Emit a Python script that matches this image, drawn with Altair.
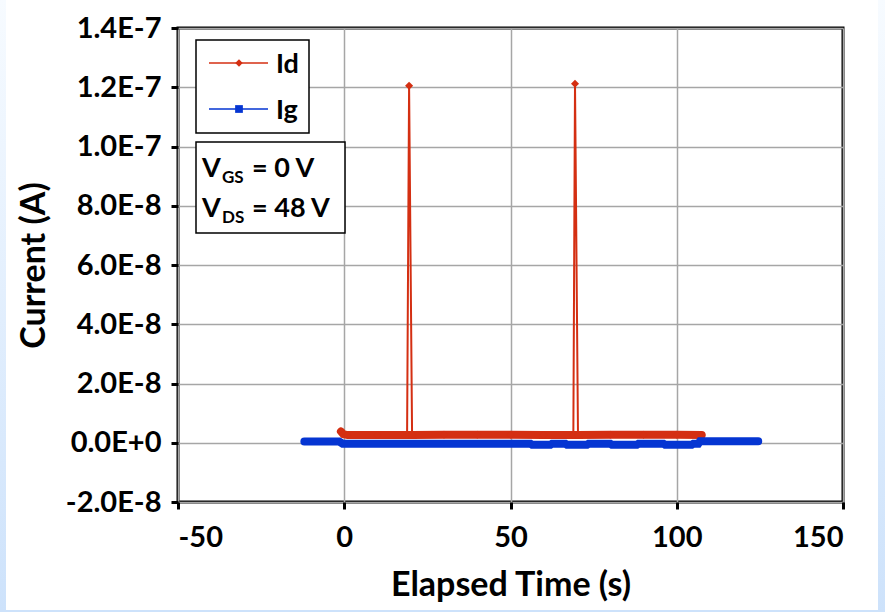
import json
import altair as alt
import pandas as pd

# ---------------- data ----------------
id_time = [-1.0, -0.3, 1.0, 10.0, 18.9, 19.5, 20.4, 30.0, 40.0, 50.0, 60.0,
           68.9, 69.4, 70.3, 80.0, 90.0, 100.0, 107.5]
id_current = [3.8e-9, 2.9e-9, 2.6e-9, 2.6e-9, 2.6e-9, 1.205e-7, 2.6e-9, 2.7e-9,
              2.7e-9, 2.7e-9, 2.6e-9, 2.6e-9, 1.212e-7, 2.6e-9, 2.7e-9, 2.7e-9,
              2.7e-9, 2.6e-9]

ig_time = [-12.0, -1.5, -0.5, 56.0, 56.5, 62.0, 62.5, 66.5, 67.0, 73.0, 73.5,
           80.0, 80.5, 88.0, 88.5, 96.0, 96.5, 104.5, 105.0, 106.5, 107.0, 124.5]
ig_current = [0.4e-9, 0.4e-9, -0.3e-9, -0.3e-9, -0.7e-9, -0.7e-9, -0.3e-9,
              -0.3e-9, -0.7e-9, -0.7e-9, -0.3e-9, -0.3e-9, -0.7e-9, -0.7e-9,
              -0.3e-9, -0.3e-9, -0.7e-9, -0.7e-9, -0.3e-9, -0.3e-9, 0.5e-9, 0.5e-9]

x_ticks = [-50, 0, 50, 100, 150]
y_ticks = [-2e-8, 0, 2e-8, 4e-8, 6e-8, 8e-8, 1e-7, 1.2e-7, 1.4e-7]
y_tick_labels = ["-2.0E-8", "0.0E+0", "2.0E-8", "4.0E-8", "6.0E-8", "8.0E-8",
                 "1.0E-7", "1.2E-7", "1.4E-7"]
series_names = ["Id", "Ig"]

# ---------------- styling ----------------
FONT = "Lato, sans-serif"
RED = "#d42f12"
BLUE = "#0535d2"
GRID = "#a6a6a6"
EDGE = "#cde2fb"

df_id = pd.DataFrame({"t": id_time, "I": id_current})
df_ig = pd.DataFrame({"t": ig_time, "I": ig_current})
one = pd.DataFrame({"k": [0]})

y_expr = f"{json.dumps(y_tick_labels)}[indexof({json.dumps(y_ticks)}, datum.value)]"

x_enc = alt.X("t:Q",
              scale=alt.Scale(domain=[-50, 150], nice=False),
              axis=alt.Axis(values=x_ticks, labelExpr="datum.value + ''",
                            title="Elapsed Time (s)"))
y_enc = alt.Y("I:Q",
              scale=alt.Scale(domain=[-2e-8, 1.4e-7], nice=False, zero=False),
              axis=alt.Axis(values=y_ticks, labelExpr=y_expr,
                            title="Current (A)"))

# light-blue frame strips around the picture
grad_v = alt.Gradient(gradient="linear", x1=0, y1=0, x2=0, y2=1,
                      stops=[alt.GradientStop(color="#f7fbff", offset=0),
                             alt.GradientStop(color=EDGE, offset=1)])
left_strip = alt.Chart(one).mark_rect(fill=grad_v).encode(
    x=alt.value(-178), x2=alt.value(-172), y=alt.value(-28), y2=alt.value(584))
right_strip = alt.Chart(one).mark_rect(fill=grad_v).encode(
    x=alt.value(700), x2=alt.value(707), y=alt.value(-28), y2=alt.value(584))
bottom_strip = alt.Chart(one).mark_rect(fill=EDGE).encode(
    x=alt.value(-178), x2=alt.value(707), y=alt.value(582), y2=alt.value(584))

# Id: thick baseline band + thin full trace + diamond markers
id_band = alt.Chart(df_id).transform_filter("datum.I < 1e-8").mark_line(
    color=RED, strokeWidth=8, strokeCap="round").encode(x=x_enc, y=y_enc, order="t:Q")
id_line = alt.Chart(df_id).mark_line(color=RED, strokeWidth=2).encode(
    x=x_enc, y=y_enc, order="t:Q")
id_pts = alt.Chart(df_id).mark_point(shape="diamond", filled=True, color=RED,
                                     size=65, opacity=1).encode(x=x_enc, y=y_enc)
# Ig: thick band
ig_band = alt.Chart(df_ig).mark_line(color=BLUE, strokeWidth=8,
                                     strokeCap="round").encode(x=x_enc, y=y_enc, order="t:Q")

# legend box
leg_box = alt.Chart(one).mark_rect(fill="white", stroke="black", strokeWidth=1.5).encode(
    x=alt.value(18), x2=alt.value(131), y=alt.value(12), y2=alt.value(105))
leg_id_line = alt.Chart(one).mark_rule(color=RED, strokeWidth=1.5).encode(
    x=alt.value(31), x2=alt.value(90), y=alt.value(35))
leg_ig_line = alt.Chart(one).mark_rule(color=BLUE, strokeWidth=1.5).encode(
    x=alt.value(31), x2=alt.value(90), y=alt.value(81))
leg_id_pt = alt.Chart(one).mark_point(shape="diamond", filled=True, color=RED,
                                      size=55, opacity=1).encode(x=alt.value(61), y=alt.value(35))
leg_ig_pt = alt.Chart(one).mark_point(shape="square", filled=True, color=BLUE,
                                      size=60, opacity=1).encode(x=alt.value(61), y=alt.value(81))
leg_id_txt = alt.Chart(one).mark_text(text=series_names[0], font=FONT, fontSize=27,
                                      fontWeight="bold", align="left", baseline="alphabetic",
                                      color="black").encode(x=alt.value(98), y=alt.value(45))
leg_ig_txt = alt.Chart(one).mark_text(text=series_names[1], font=FONT, fontSize=27,
                                      fontWeight="bold", align="left", baseline="alphabetic",
                                      color="black").encode(x=alt.value(98), y=alt.value(91))

# bias annotation box
ann_box = alt.Chart(one).mark_rect(fill="white", stroke="black", strokeWidth=1.5).encode(
    x=alt.value(18), x2=alt.value(167), y=alt.value(114), y2=alt.value(205))


def txt(s, x, y, size):
    return alt.Chart(one).mark_text(text=s, font=FONT, fontSize=size, fontWeight="bold",
                                    align="left", baseline="alphabetic",
                                    color="black").encode(x=alt.value(x), y=alt.value(y))


ann = [
    txt("V", 24, 149, 27), txt("GS", 44, 155, 17), txt("= 0 V", 74, 149, 27),
    txt("V", 24, 189, 27), txt("DS", 44, 195, 17), txt("= 48 V", 74, 189, 27),
]

chart = alt.layer(
    id_line, id_band, id_pts, ig_band,
    left_strip, right_strip, bottom_strip,
    leg_box, leg_id_line, leg_ig_line, leg_id_pt, leg_ig_pt, leg_id_txt, leg_ig_txt,
    ann_box, *ann,
).properties(
    width=665, height=474,
    autosize=alt.AutoSizeParams(type="none"),
    padding={"left": 178, "top": 28, "right": 42, "bottom": 110},
    background="white",
).configure_view(
    stroke="black", strokeWidth=3
).configure_axis(
    labelFont=FONT, labelFontSize=29, labelFontWeight="bold", labelColor="black",
    titleFont=FONT, titleFontSize=34, titleFontWeight="bold", titleColor="black",
    grid=True, gridColor=GRID, gridWidth=1.5,
    domain=False, tickColor="black", tickWidth=3, tickSize=7,
).configure_axisX(
    labelPadding=14, titlePadding=16,
).configure_axisY(
    labelPadding=10, titlePadding=14,
)

chart.save("out.html", embed_options={"renderer": "svg", "actions": False})
